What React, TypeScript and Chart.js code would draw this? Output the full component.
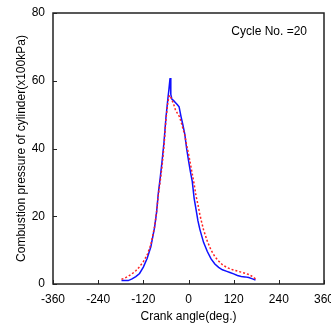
import React, { useEffect, useRef } from "react";
import { Chart, registerables } from "chart.js";

Chart.register(...registerables);

const blueAngles = [-178, -170, -160, -150, -140, -130, -120, -110, -100, -90, -85, -80, -75, -70, -65, -60, -55, -52, -49, -47, -44, -40, -35, -30, -25, -20, -15, -10, -5, 0, 5, 10, 15, 20, 25, 30, 40, 50, 60, 70, 80, 90, 100, 110, 120, 130, 140, 150, 160, 170, 178];
const bluePressure = [1.0, 1.0, 1.0, 1.5, 2.2, 3.1, 5.0, 7.5, 11.0, 16.8, 21.0, 27.0, 31.5, 36.5, 42.0, 49.0, 54.5, 57.5, 60.8, 56.0, 54.5, 54.2, 53.6, 53.0, 52.3, 49.5, 47.0, 44.3, 40.0, 36.5, 33.2, 30.3, 25.3, 22.0, 18.7, 16.2, 12.3, 9.6, 7.4, 5.9, 4.9, 4.2, 3.8, 3.4, 3.0, 2.5, 2.2, 2.1, 1.9, 1.5, 1.2];

const redAngles = [-178, -170, -160, -150, -140, -130, -120, -110, -100, -90, -85, -80, -75, -70, -65, -60, -55, -52, -49, -45, -40, -35, -30, -25, -20, -15, -10, -5, 0, 5, 10, 15, 20, 25, 30, 35, 40, 50, 60, 70, 80, 90, 100, 110, 120, 130, 140, 150, 160, 170, 178];
const redPressure = [1.4, 1.7, 2.3, 3.0, 3.9, 5.1, 6.6, 8.5, 11.6, 17.0, 21.0, 26.5, 30.5, 35.0, 41.0, 48.5, 53.5, 55.3, 55.7, 54.5, 53.3, 51.5, 50.5, 49.6, 48.0, 46.0, 44.0, 41.0, 38.5, 35.5, 32.5, 29.5, 26.0, 23.5, 20.6, 18.2, 16.0, 12.6, 10.0, 8.1, 6.8, 5.7, 5.0, 4.5, 4.1, 3.8, 3.5, 3.2, 2.8, 2.2, 1.5];

const xTicks = [-360, -240, -120, 0, 120, 240, 360];
const yTicks = [0, 20, 40, 60, 80];
const annotationText = "Cycle No. =20";
const xTitle = "Crank angle(deg.)";
const yTitle = "Combustion pressure of cylinder(x100kPa)";

const FONT = "'Liberation Sans', Arial, sans-serif";

const framePlugin = {
  id: "frame",
  afterDraw(chart: any) {
    const { ctx, chartArea } = chart;
    const { left, right, top, bottom } = chartArea;
    const xs = chart.scales.x;
    const ys = chart.scales.y;
    ctx.save();
    ctx.strokeStyle = "#222";
    ctx.lineWidth = 1;
    ctx.beginPath();
    xTicks.forEach((t) => {
      const px = Math.round(xs.getPixelForValue(t)) + 0.5;
      ctx.moveTo(px, bottom);
      ctx.lineTo(px, bottom - 4);
    });
    yTicks.forEach((t) => {
      const py = Math.round(ys.getPixelForValue(t)) + 0.5;
      ctx.moveTo(left, py);
      ctx.lineTo(left + 4, py);
    });
    ctx.stroke();
    ctx.lineWidth = 1.5;
    ctx.strokeRect(left, top, right - left, bottom - top);
    ctx.fillStyle = "#000";
    ctx.font = `12px ${FONT}`;
    ctx.textAlign = "right";
    ctx.textBaseline = "middle";
    ctx.fillText(annotationText, right - 17, top + 19);
    ctx.restore();
  },
};

export default function App() {
  const ref = useRef<HTMLCanvasElement>(null);
  useEffect(() => {
    document.body.style.margin = "0";
    const canvas = ref.current!;
    const chart = new Chart(canvas, {
      type: "line",
      data: {
        datasets: [
          {
            label: "red",
            data: redAngles.map((a, i) => ({ x: a, y: redPressure[i] })),
            borderColor: "#ff2020",
            borderWidth: 1.5,
            borderDash: [2, 2],
            pointRadius: 0,
            tension: 0,
            fill: false,
          },
          {
            label: "blue",
            data: blueAngles.map((a, i) => ({ x: a, y: bluePressure[i] })),
            borderColor: "#1010ff",
            borderWidth: 1.5,
            pointRadius: 0,
            tension: 0,
            fill: false,
          },
        ],
      },
      options: {
        animation: false,
        responsive: false,
        maintainAspectRatio: false,
        devicePixelRatio: 1,
        layout: { padding: { top: 13, right: 7, left: 0, bottom: 0 } },
        plugins: {
          legend: { display: false },
          tooltip: { enabled: false },
        },
        scales: {
          x: {
            type: "linear",
            min: -360,
            max: 360,
            afterBuildTicks: (s: any) => {
              s.ticks = xTicks.map((v) => ({ value: v }));
            },
            afterFit: (s: any) => {
              s.height = 41;
              s.paddingLeft = 0;
              s.paddingRight = 0;
            },
            grid: { display: false, drawTicks: false },
            border: { display: false },
            ticks: {
              padding: 8,
              color: "#000",
              font: { family: FONT, size: 12 },
              maxRotation: 0,
              autoSkip: false,
            },
            title: {
              display: true,
              text: xTitle,
              color: "#000",
              font: { family: FONT, size: 12 },
              padding: { top: 0, bottom: 1 },
            },
          },
          y: {
            type: "linear",
            min: 0,
            max: 80,
            afterBuildTicks: (s: any) => {
              s.ticks = yTicks.map((v) => ({ value: v }));
            },
            afterFit: (s: any) => {
              s.width = 53;
              s.paddingTop = 0;
              s.paddingBottom = 0;
            },
            grid: { display: false, drawTicks: false },
            border: { display: false },
            ticks: {
              padding: 8,
              color: "#000",
              font: { family: FONT, size: 12 },
              autoSkip: false,
            },
            title: {
              display: true,
              text: yTitle,
              color: "#000",
              font: { family: FONT, size: 12 },
              padding: { top: 14, bottom: 0 },
            },
          },
        },
      },
      plugins: [framePlugin],
    });
    return () => chart.destroy();
  }, []);
  return <canvas ref={ref} width={331} height={325} style={{ display: "block" }} />;
}
